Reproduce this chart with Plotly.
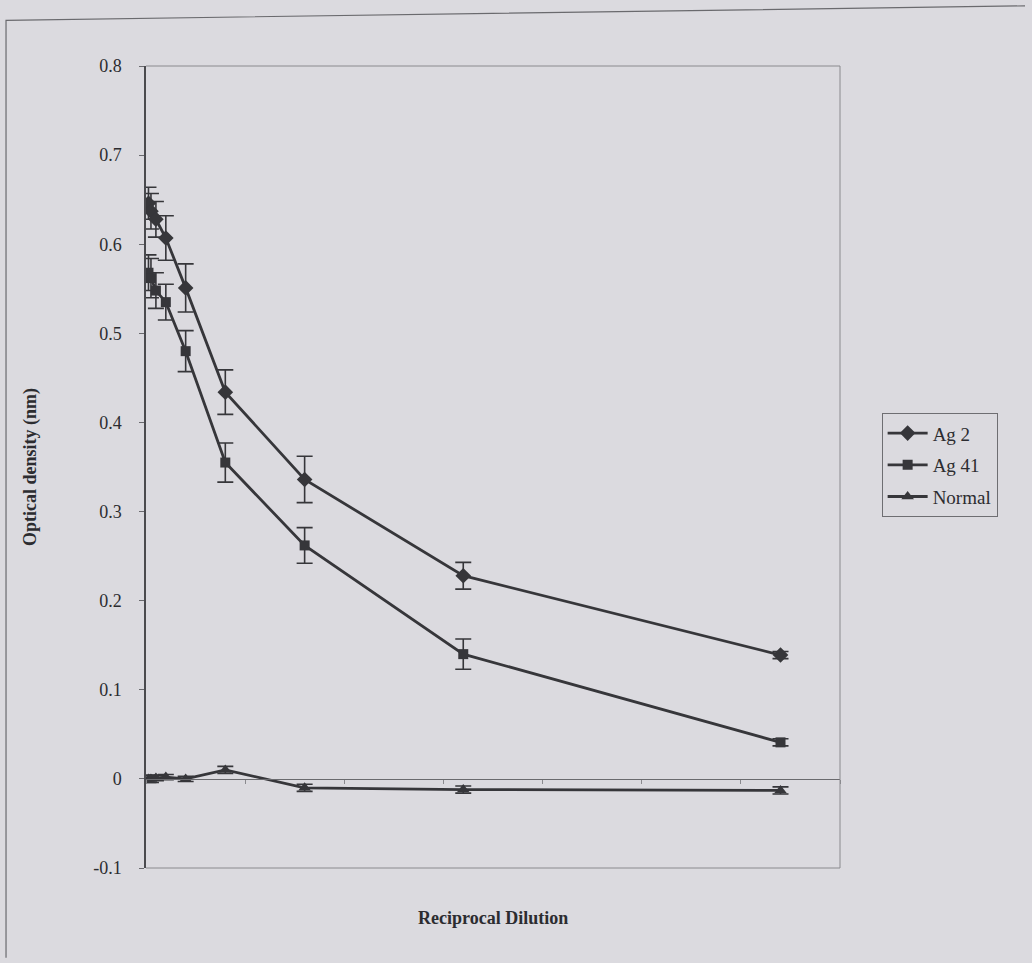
import plotly.graph_objects as go

# Reciprocal dilution of each serum sample
dilution = [100, 200, 400, 800, 1600, 3200, 6400, 12800, 25600]

# Mean optical density and standard deviation per series
ag2 = [0.646, 0.637, 0.628, 0.607, 0.551, 0.434, 0.336, 0.228, 0.139]
ag2_err = [0.018, 0.020, 0.020, 0.025, 0.027, 0.025, 0.026, 0.015, 0.004]
ag41 = [0.568, 0.562, 0.548, 0.535, 0.480, 0.355, 0.262, 0.140, 0.041]
ag41_err = [0.020, 0.022, 0.020, 0.020, 0.023, 0.022, 0.020, 0.017, 0.004]
normal = [0.000, 0.000, 0.001, 0.002, 0.000, 0.010, -0.010, -0.012, -0.013]
normal_err = [0.004, 0.004, 0.003, 0.003, 0.003, 0.004, 0.004, 0.004, 0.004]

y_ticks = [-0.1, 0, 0.1, 0.2, 0.3, 0.4, 0.5, 0.6, 0.7, 0.8]
y_labels = ["-0.1", "0", "0.1", "0.2", "0.3", "0.4", "0.5", "0.6", "0.7", "0.8"]

INK = "#36363a"
TEXT = "#2c2c30"
BG = "#dbdadf"
SERIF = "Liberation Serif, Times New Roman, serif"

series = [
    ("Ag 2", ag2, ag2_err, "diamond", 12),
    ("Ag 41", ag41, ag41_err, "square", 10),
    ("Normal", normal, normal_err, "triangle-up", 11),
]

fig = go.Figure()
for name, vals, errs, symbol, size in series:
    fig.add_trace(go.Scatter(
        x=dilution, y=vals, name=name, legendgroup=name,
        mode="lines+markers",
        line=dict(color=INK, width=2.8),
        marker=dict(symbol=symbol, size=size, color=INK),
        error_y=dict(type="data", array=errs, visible=True,
                     color=INK, thickness=1.6, width=8),
    ))

fig.update_layout(
    width=1032, height=963,
    margin=dict(l=146, r=192, t=66, b=95),
    paper_bgcolor=BG, plot_bgcolor=BG,
    font=dict(family=SERIF, color=TEXT, size=17),
    showlegend=True,
    legend=dict(
        x=1.06, y=0.567, xanchor="left", yanchor="top",
        bgcolor=BG, bordercolor="#6e6e72", borderwidth=1,
        font=dict(family=SERIF, size=19, color=TEXT),
        tracegroupgap=4, itemwidth=40,
    ),
    xaxis=dict(
        range=[0, 28000], dtick=4000, showgrid=False, zeroline=False,
        showticklabels=False, showline=True, linecolor="#6a6a6e", linewidth=1,
        ticks="outside", ticklen=4, tickcolor="#8a8a8e",
        anchor="free", position=0.1111,
        title=None,
    ),
    yaxis=dict(
        range=[-0.1, 0.8], tickvals=y_ticks, ticktext=y_labels,
        showgrid=False, zeroline=False,
        showline=True, linecolor="#4a4a4e", linewidth=1.5,
        ticks="outside", ticklen=5, tickcolor="#6a6a6e",
        ticklabelstandoff=14,
        tickfont=dict(family=SERIF, size=18, color=TEXT),
        title=dict(text="<b>Optical density (nm)</b>",
                   font=dict(family=SERIF, size=18, color=TEXT),
                   standoff=52),
    ),
)

# X axis title under the plot area
fig.add_annotation(
    text="<b>Reciprocal Dilution</b>", xref="paper", yref="paper",
    x=0.5, y=-0.0625, xanchor="center", yanchor="middle", showarrow=False,
    font=dict(family=SERIF, size=18, color=TEXT),
)

# Plot area frame (top, right and bottom edges)
fig.add_shape(type="path", xref="paper", yref="paper",
              path="M 0,1 L 1,1 L 1,0 L 0,0",
              line=dict(color="#8a8a8e", width=1))

# Outer chart frame (left and top edges)
fig.add_shape(type="path", xref="paper", yref="paper",
              path="M -0.2017,-0.112 L -0.2017,1.057 L 1.2666,1.075",
              line=dict(color="#6a6a6e", width=1.2))

fig.write_html("out.html")
